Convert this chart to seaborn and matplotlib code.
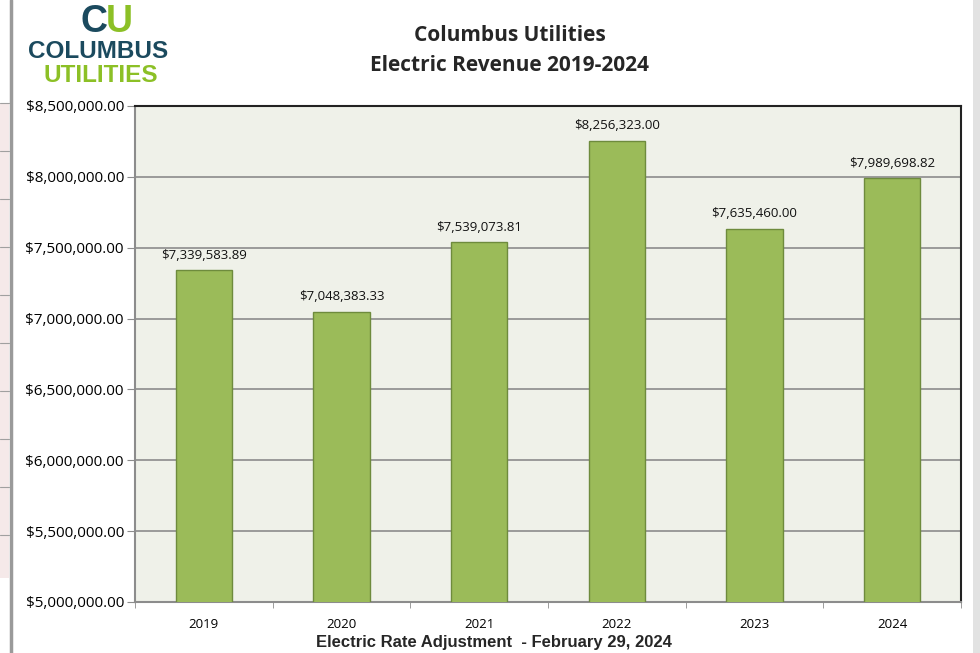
import numpy as np
import pandas as pd
import seaborn as sns
import matplotlib.pyplot as plt
from matplotlib.patches import Rectangle
from matplotlib.ticker import FuncFormatter

years = ['2019', '2020', '2021', '2022', '2023', '2024']
revenue = [7339583.89, 7048383.33, 7539073.81, 8256323.00, 7635460.00, 7989698.82]
yticks = np.arange(5000000, 8500001, 500000)

df = pd.DataFrame({'year': years, 'revenue': revenue})

sns.set_style('white')
plt.rcParams['font.family'] = ['Open Sans', 'DejaVu Sans']

W, H = 980, 653
fig = plt.figure(figsize=(W / 100, H / 100), dpi=100)
ax = fig.add_axes([135 / W, 1 - 602 / H, (961 - 135) / W, (602 - 106) / H])

# screenshot frame: pink sheet strip on the left, grey bars at both edges
fig.patches.append(Rectangle((0, 1 - 578 / H), 9 / W, (578 - 103) / H,
                             transform=fig.transFigure, facecolor='#f5e9e9',
                             edgecolor='none', zorder=0))
for yy in range(103, 580, 48):
    fig.lines.append(plt.Line2D([0, 9 / W], [1 - yy / H] * 2,
                                transform=fig.transFigure, color='#a0a0a0', lw=0.8))
fig.lines.append(plt.Line2D([10.5 / W] * 2, [0, 1], transform=fig.transFigure,
                            color='#9a9a9a', lw=2.5))
fig.patches.append(Rectangle((973 / W, 0), 7 / W, 1, transform=fig.transFigure,
                             facecolor='#e2e2e2', edgecolor='none', zorder=0))

ax.set_facecolor('#eff1e9')
sns.barplot(data=df, x='year', y='revenue', ax=ax, color='#9bbb59',
            width=0.41, edgecolor='#6e8b3d', linewidth=1, saturation=1, zorder=3)

ax.set_ylim(5000000, 8500000)
ax.set_yticks(yticks)
ax.yaxis.set_major_formatter(FuncFormatter(lambda v, p: f'${v:,.2f}'))
ax.grid(axis='y', color='#8c8c8c', lw=1.2, zorder=0)
ax.set_axisbelow(True)

for i, v in enumerate(revenue):
    ax.text(i, v + 60000, f'${v:,.2f}', ha='center', va='bottom',
            fontsize=9.5, color='#111111', zorder=4)

ax.tick_params(axis='y', direction='out', length=6, color='#8c8c8c',
               labelsize=11, labelcolor='black', pad=2, left=True)
ax.tick_params(axis='x', labelsize=9.5, labelcolor='black', pad=8, bottom=False)
ax.set_xticks(np.arange(-0.5, 6, 1), minor=True)
ax.tick_params(axis='x', which='minor', direction='out', length=4,
               color='#8c8c8c', bottom=True)

for s in ['left', 'bottom']:
    ax.spines[s].set_color('#8c8c8c')
    ax.spines[s].set_linewidth(1.5)
for s in ['top', 'right']:
    ax.spines[s].set_color('#222222')
    ax.spines[s].set_linewidth(1.5)

ax.set_xlabel('Electric Rate Adjustment  - February 29, 2024',
              family=['Liberation Sans', 'DejaVu Sans'], fontweight='bold',
              fontsize=12)
ax.xaxis.set_label_coords((494 - 135) / (961 - 135), -0.066)
ax.set_ylabel('')

fig.text(0.52, 0.946, 'Columbus Utilities', ha='center', va='center',
         fontsize=15, fontweight='bold')
fig.text(0.52, 0.899, 'Electric Revenue 2019-2024', ha='center', va='center',
         fontsize=15, fontweight='bold')

# logo
lf = ['Liberation Sans', 'DejaVu Sans']
fig.text(80 / W, 1 - 22 / H, 'C', ha='left', va='center', fontsize=27,
         fontweight='heavy', color='#1b4a5e', family=lf)
fig.text(106 / W, 1 - 22 / H, 'U', ha='left', va='center', fontsize=27,
         fontweight='heavy', color='#8cc026', family=lf)
fig.text(28 / W, 1 - 52 / H, 'COLUMBUS', ha='left', va='center', fontsize=17.5,
         fontweight='heavy', color='#1b4a5e', family=lf)
fig.text(43 / W, 1 - 76 / H, 'UTILITIES', ha='left', va='center', fontsize=17.5,
         fontweight='heavy', color='#8cc026', family=lf)

fig.savefig('out.png', dpi=100)
